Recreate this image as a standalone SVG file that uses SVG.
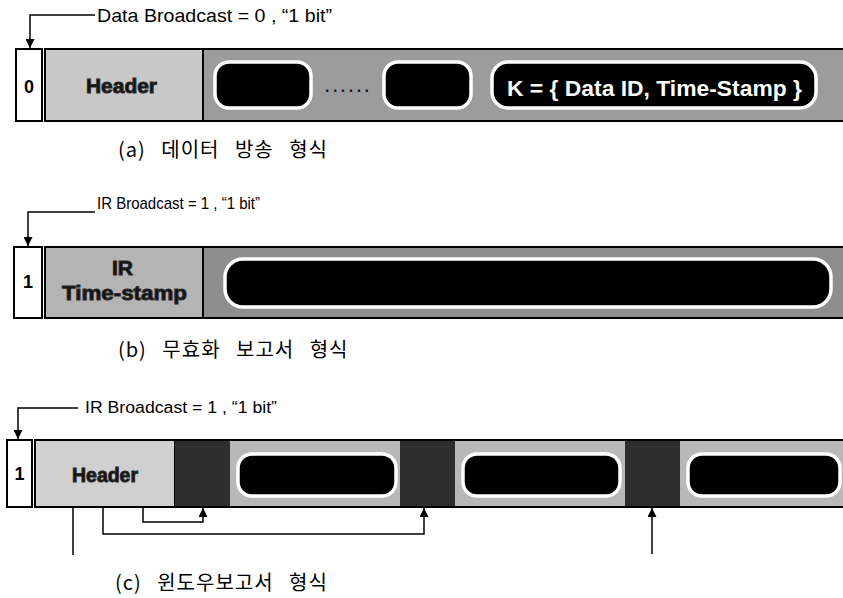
<svg xmlns="http://www.w3.org/2000/svg" width="843" height="598" viewBox="0 0 843 598">
<defs>
<marker id="ah" viewBox="0 0 10 10" refX="10" refY="5" markerWidth="10" markerHeight="9" markerUnits="userSpaceOnUse" orient="auto"><path d="M0,0 L10,5 L0,10 z" fill="#000"/></marker>
</defs>
<style>
.lbl{font-family:"Liberation Sans",Arial,sans-serif;font-size:19px;fill:#000}
.cap{font-family:"Noto Sans CJK KR","Noto Sans",sans-serif;font-size:20px;word-spacing:10px;letter-spacing:1px;fill:#000}
.hdr{font-family:"Liberation Sans",Arial,sans-serif;font-weight:bold;font-size:21px;fill:#111;stroke:#2a2a2a;stroke-width:1}
.bit{fill:#fff;stroke:#000;stroke-width:2}
.bitt{font-family:"Liberation Sans",Arial,sans-serif;font-weight:bold;font-size:18px;text-anchor:middle;fill:#000}
.blk{fill:#000;stroke:#fff;stroke-width:3.5}
.bar{stroke:#000;stroke-width:2}
.dark{fill:#2e2e2e}
.line{fill:none;stroke:#000;stroke-width:1.5}
.ktxt{font-family:"Liberation Sans",Arial,sans-serif;font-weight:bold;font-size:22px;fill:#fff}
</style>

<!-- (a) -->
<g id="a-bit"><rect class="bit" x="16" y="49" width="26" height="72"/><text class="bitt" x="29" y="93">0</text></g>
<g id="a-bar"><rect class="bar" x="45" y="49" width="800" height="72" fill="#9c9c9c"/></g>
<g id="a-header"><rect class="bar" x="45" y="49" width="158" height="72" fill="#c8c8c8"/><text class="hdr" x="86" y="93" textLength="71" lengthAdjust="spacingAndGlyphs">Header</text></g>
<g id="a-data1"><rect class="blk" x="215" y="62" width="96" height="46" rx="14"/></g>
<g id="a-dots"><text x="325" y="92" textLength="44" lengthAdjust="spacing" font-family="Liberation Sans, Arial, sans-serif" font-weight="bold" font-size="16" fill="#1a1a1a">......</text></g>
<g id="a-data2"><rect class="blk" x="384" y="62" width="87" height="46" rx="14"/></g>
<g id="a-key"><rect class="blk" x="492" y="62" width="324" height="46" rx="16"/><text class="ktxt" x="507" y="96" textLength="295" lengthAdjust="spacingAndGlyphs">K = { Data ID, Time-Stamp }</text></g>
<g id="a-label"><text class="lbl" x="97" y="22" textLength="235" lengthAdjust="spacingAndGlyphs">Data Broadcast = 0 , “1 bit”</text></g>
<g id="a-caption"><text class="cap" x="118" y="157">(a) 데이터 방송 형식</text></g>

<!-- (b) -->
<g id="b-bit"><rect class="bit" x="14" y="247" width="28" height="71"/><text class="bitt" x="28" y="288">1</text></g>
<g id="b-bar"><rect class="bar" x="45" y="247" width="800" height="71" fill="#8e8e8e"/></g>
<g id="b-header"><rect class="bar" x="45" y="247" width="158" height="71" fill="#b4b4b4"/><text class="hdr" x="122.5" y="275" text-anchor="middle">IR</text><text class="hdr" x="62" y="300" textLength="125" lengthAdjust="spacingAndGlyphs">Time-stamp</text></g>
<g id="b-data"><rect class="blk" x="225" y="259" width="606" height="48" rx="18"/></g>
<g id="b-label"><text class="lbl" x="97" y="209" style="font-size:17px" textLength="163" lengthAdjust="spacingAndGlyphs">IR Broadcast = 1 , “1 bit”</text></g>
<g id="b-caption"><text class="cap" x="118" y="357">(b) 무효화 보고서 형식</text></g>

<!-- (c) -->
<g id="c-bit"><rect class="bit" x="7" y="440" width="25" height="67"/><text class="bitt" x="19.5" y="480">1</text></g>
<g id="c-bar"><rect class="bar" x="35" y="440" width="810" height="67" fill="#b8b8b8"/></g>
<g id="c-header"><rect class="bar" x="35" y="440" width="140" height="67" fill="#d0d0d0"/><text class="hdr" x="72" y="482" textLength="66" lengthAdjust="spacingAndGlyphs">Header</text></g>
<g id="c-slot1"><rect class="dark" x="175" y="441" width="55" height="65"/></g>
<g id="c-data1"><rect class="blk" x="238" y="454" width="158" height="42" rx="14"/></g>
<g id="c-slot2"><rect class="dark" x="400" y="441" width="55" height="65"/></g>
<g id="c-data2"><rect class="blk" x="463" y="454" width="157" height="42" rx="14"/></g>
<g id="c-slot3"><rect class="dark" x="625" y="441" width="55" height="65"/></g>
<g id="c-data3"><rect class="blk" x="688" y="454" width="152" height="42" rx="14"/></g>
<g id="c-label"><text class="lbl" x="85" y="413" style="font-size:16px" textLength="192" lengthAdjust="spacingAndGlyphs">IR Broadcast = 1 , “1 bit”</text></g>
<g id="c-caption"><text class="cap" x="115" y="590">(c) 윈도우보고서 형식</text></g>

<g id="connectors">
<path class="line" d="M95,15 H30 V48" marker-end="url(#ah)"/>
<path class="line" d="M95,212 H28 V246" marker-end="url(#ah)"/>
<path class="line" d="M78,408 H18 V439" marker-end="url(#ah)"/>
<path class="line" d="M73,507 V555"/>
<path class="line" d="M103,508 V534 H424 V508" marker-end="url(#ah)"/>
<path class="line" d="M143,508 V522 H203 V508" marker-end="url(#ah)"/>
<path class="line" d="M652,554 V508" marker-end="url(#ah)"/>
</g>
</svg>
